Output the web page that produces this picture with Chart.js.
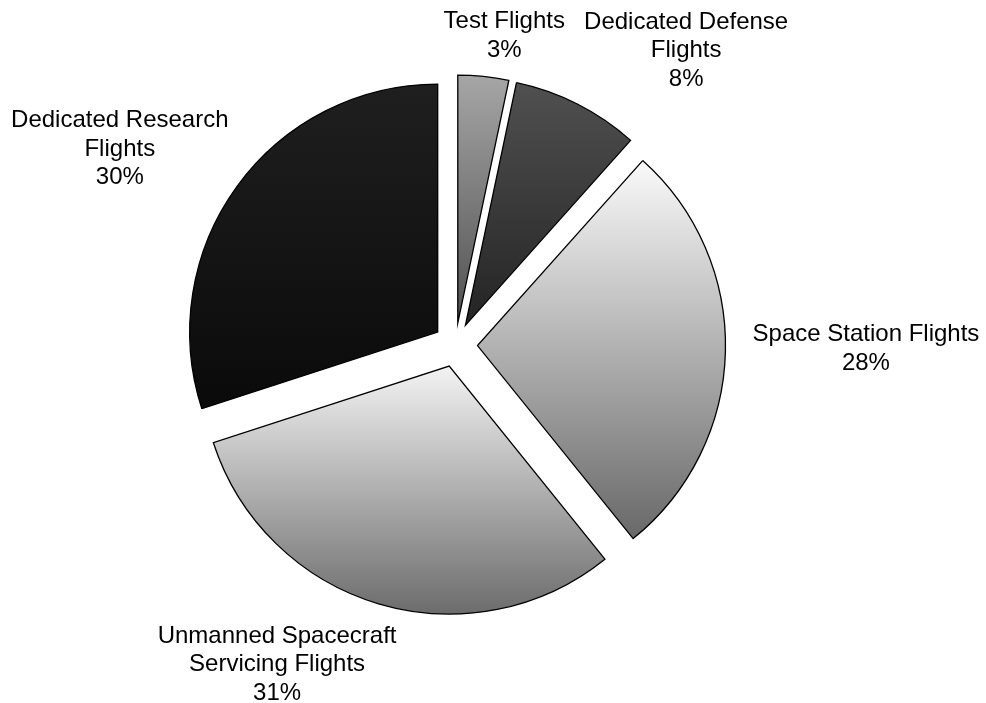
<!DOCTYPE html>
<html>
<head>
<meta charset="utf-8">
<script src="https://cdn.jsdelivr.net/npm/chart.js@4.4.1/dist/chart.umd.min.js"></script>
<style>
  html, body { margin: 0; padding: 0; background: #fff; }
</style>
</head>
<body>
<canvas id="flightPie" width="986" height="703"></canvas>
<script>
// --- data ---
const categories = [
  ["Test Flights"],
  ["Dedicated Defense", "Flights"],
  ["Space Station Flights"],
  ["Unmanned Spacecraft", "Servicing Flights"],
  ["Dedicated Research", "Flights"]
];
// shares as measured off the slice angles; labels show them rounded
const shares = [3.3, 8.3, 27.6, 30.8, 30.0];

// --- styling ---
const topShades = ["#a6a6a6", "#505050", "#fafafa", "#f3f3f3", "#1f1f1f"];
const bottomShades = ["#505050", "#242424", "#686868", "#6c6c6c", "#0a0a0a"];
// label spot per slice: [degrees clockwise from 12 o'clock, distance in pie radii]
const labelSpots = [[8.9, 1.27], [37.9, 1.514], [90.3, 1.655], [209.3, 1.47], [300.5, 1.571]];
const PIE_RADIUS = 248;
const EXPLODE = 22;
const LINE_H = 28.6;
const FONT = '24px "Liberation Sans", Arial, sans-serif';

// pie slice that is pushed out from the centre along its mid angle
class ExplodedArc extends Chart.ArcElement {
  draw(ctx) {
    const mid = (this.startAngle + this.endAngle) / 2;
    ctx.save();
    ctx.translate(Math.cos(mid) * EXPLODE, Math.sin(mid) * EXPLODE);
    super.draw(ctx);
    ctx.restore();
  }
}
ExplodedArc.id = 'explodedArc';

class ExplodedPie extends Chart.PieController {}
ExplodedPie.id = 'explodedPie';
ExplodedPie.defaults = { dataElementType: 'explodedArc' };

Chart.register(ExplodedArc, ExplodedPie);

const total = shares.reduce((a, b) => a + b, 0);

// vertical gradient across the slice's own height
function sliceGradient(c) {
  const area = c.chart.chartArea;
  const i = c.dataIndex;
  if (!area || i === undefined) return topShades[0];
  const cy = (area.top + area.bottom) / 2;
  const before = shares.slice(0, i).reduce((a, b) => a + b, 0);
  const a0 = -Math.PI / 2 + before / total * 2 * Math.PI;
  const a1 = a0 + shares[i] / total * 2 * Math.PI;
  const ys = [0, Math.sin(a0), Math.sin(a1)];
  [Math.PI / 2, 3 * Math.PI / 2].forEach(k => { if (k > a0 && k < a1) ys.push(Math.sin(k)); });
  const g = c.chart.ctx.createLinearGradient(0, cy + Math.min(...ys) * PIE_RADIUS, 0, cy + Math.max(...ys) * PIE_RADIUS);
  g.addColorStop(0, topShades[i]);
  g.addColorStop(1, bottomShades[i]);
  return g;
}

const sliceLabels = {
  id: 'sliceLabels',
  afterDatasetsDraw(chart) {
    const arc = chart.getDatasetMeta(0).data[0];
    const { x, y, outerRadius } = arc;
    const ctx = chart.ctx;
    ctx.save();
    ctx.font = FONT;
    ctx.fillStyle = '#000';
    ctx.textAlign = 'center';
    ctx.textBaseline = 'alphabetic';
    categories.forEach((lines, i) => {
      const t = labelSpots[i][0] * Math.PI / 180;
      const k = labelSpots[i][1];
      const lx = x + Math.sin(t) * k * outerRadius;
      const ly = y - Math.cos(t) * k * outerRadius;
      const rows = lines.concat([Math.round(shares[i] / total * 100) + '%']);
      rows.forEach((s, j) => {
        ctx.fillText(s, lx, ly + (j - (rows.length - 1) / 2) * LINE_H + 8.4);
      });
    });
    ctx.restore();
  }
};

new Chart(document.getElementById('flightPie'), {
  type: 'explodedPie',
  data: {
    labels: categories.map(l => l.join(' ')),
    datasets: [{
      data: shares,
      backgroundColor: sliceGradient,
      borderColor: '#000',
      borderWidth: 1.3,
      borderJoinStyle: 'miter',
      radius: PIE_RADIUS
    }]
  },
  options: {
    responsive: false,
    animation: false,
    events: [],
    layout: { padding: { left: 200, right: 275, top: 100, bottom: 113 } },
    plugins: {
      legend: { display: false },
      tooltip: { enabled: false }
    }
  },
  plugins: [sliceLabels]
});
</script>
</body>
</html>
